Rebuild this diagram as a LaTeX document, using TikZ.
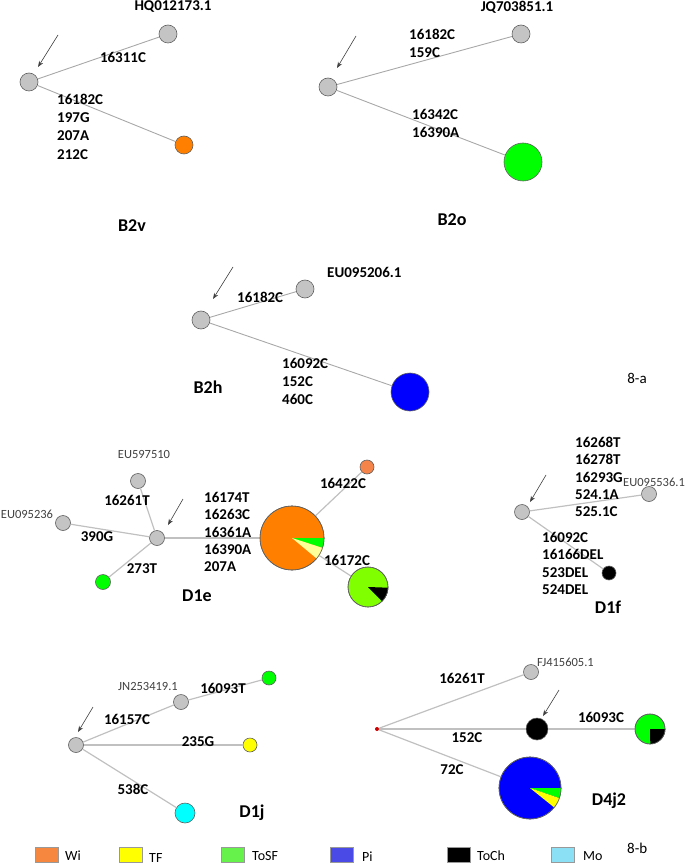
\documentclass[tikz,border=0pt]{standalone}
\usepackage{fontspec}
\setmainfont{Carlito}
\usetikzlibrary{arrows.meta}
\definecolor{nodegrey}{HTML}{C4C4C4}
\definecolor{rimgrey}{HTML}{606060}
\definecolor{linkgrey}{HTML}{A8A8A8}
\definecolor{linklight}{HTML}{C0C0C0}
\definecolor{arrowgrey}{HTML}{404040}
\definecolor{accgrey}{HTML}{404040}
\definecolor{wiOr}{HTML}{FF8000}
\definecolor{wiOrL}{HTML}{F5844A}
\definecolor{tosfG}{HTML}{00FF00}
\definecolor{limeG}{HTML}{80FF00}
\definecolor{piB}{HTML}{0000FF}
\definecolor{moC}{HTML}{00FFFF}
\definecolor{tfY}{HTML}{FFFF00}
\definecolor{tfYL}{HTML}{FFFF99}
\definecolor{legWi}{HTML}{F5873F}
\definecolor{legTF}{HTML}{FFFF00}
\definecolor{legToSF}{HTML}{66F24A}
\definecolor{legPi}{HTML}{4A4AE6}
\definecolor{legToCh}{HTML}{000000}
\definecolor{legMo}{HTML}{8CE0F5}
\definecolor{legRim}{HTML}{999999}
\tikzset{
  hap/.style={circle, draw=rimgrey, line width=0.6pt, inner sep=0pt},
  greyhap/.style={hap, fill=nodegrey, minimum size=#1},
  lbl/.style={font=\fontsize{15}{18.2}\selectfont\bfseries, inner sep=0pt, align=left},
  lblt/.style={font=\fontsize{15}{17.3}\selectfont\bfseries, inner sep=0pt, align=left},
  acc/.style={font=\fontsize{12.5}{15}\selectfont, text=accgrey, inner sep=0pt},
  grp/.style={font=\fontsize{18}{20}\selectfont\bfseries, inner sep=0pt},
  fig/.style={font=\fontsize{15}{18}\selectfont, inner sep=0pt},
  legtxt/.style={font=\fontsize{14}{16}\selectfont, inner sep=0pt, anchor=west},
  legsq/.style={draw=legRim, line width=0.6pt, minimum width=23pt, minimum height=15pt, inner sep=0pt},
  link/.style={draw=linkgrey, line width=0.9pt},
  linkl/.style={draw=linklight, line width=1.2pt},
  pointer/.style={-{Stealth[length=6pt,width=4.5pt]}, draw=arrowgrey, line width=0.6pt}
}
\begin{document}
\begin{tikzpicture}[x=1pt,y=-1pt]
\useasboundingbox (0,0) rectangle (685,866);

% ---------------- B2v ----------------
\node[greyhap=18pt] (bvr) at (29,82) {};
\node[greyhap=18pt] (bvh) at (168,34) {};
\node[hap, fill=wiOr, minimum size=18pt] (bvo) at (184,145) {};
\draw[link] (bvr) -- (bvh);
\draw[link] (bvr) -- (bvo);
\node[lbl] (bvhl) at (173,7) {HQ012173.1};
\node[lbl] (bvm1) at (123,57) {16311C};
\node[lbl, anchor=north west] (bvm2) at (57,94) {16182C\\197G\\207A\\212C};
\node[grp] (bvt) at (132,226) {B2v};
\coordinate (bvas) at (58,35);
\coordinate (bvae) at (38,67);
\draw[pointer] (bvas) -- (bvae);

% ---------------- B2o ----------------
\node[greyhap=18pt] (bor) at (328,87) {};
\node[greyhap=18pt] (boj) at (521,34) {};
\node[hap, fill=tosfG, minimum size=38pt] (bog) at (523,162) {};
\draw[link] (bor) -- (boj);
\draw[link] (bor) -- (bog);
\node[lbl] (bojl) at (517,7) {JQ703851.1};
\node[lbl, anchor=north west] (bom1) at (409,29) {16182C\\159C};
\node[lbl, anchor=north west] (bom2) at (412,109) {16342C\\16390A};
\node[grp] (bot) at (452,220) {B2o};
\coordinate (boas) at (356,36);
\coordinate (boae) at (337,68);
\draw[pointer] (boas) -- (boae);

% ---------------- B2h ----------------
\node[greyhap=18pt] (bhr) at (201,320) {};
\node[greyhap=18pt] (bhe) at (305,289) {};
\node[hap, fill=piB, minimum size=38pt] (bhb) at (410,392) {};
\draw[link] (bhr) -- (bhe);
\draw[link] (bhr) -- (bhb);
\node[lbl, anchor=west] (bhel) at (327,272) {EU095206.1};
\node[lbl, anchor=west] (bhm1) at (237,297) {16182C};
\node[lbl, anchor=north west] (bhm2) at (282,358) {16092C\\152C\\460C};
\node[grp] (bht) at (208,387) {B2h};
\node[fig] (figa) at (637,378) {8-a};
\coordinate (bhas) at (233,267);
\coordinate (bhae) at (213,299);
\draw[pointer] (bhas) -- (bhae);

% ---------------- D1e ----------------
\node[greyhap=15pt] (der) at (157,538) {};
\node[greyhap=15pt] (de5) at (138,481) {};
\node[greyhap=15pt] (de0) at (63,523) {};
\node[hap, fill=tosfG, minimum size=15pt] (deg) at (103,582) {};
\node[hap, fill=wiOr, minimum size=64pt] (dep) at (292,538) {};
\node[hap, fill=wiOrL, minimum size=14pt] (deo) at (367,467) {};
\node[hap, fill=limeG, minimum size=40pt] (deq) at (368,587) {};
\draw[linkl] (der) -- (de5);
\draw[linkl] (der) -- (de0);
\draw[linkl] (der) -- (deg);
\draw[linkl] (der) -- (dep);
\draw[linkl] (dep) -- (deo);
\draw[linkl] (dep) -- (deq);
% pie slices
\fill[tosfG] (dep.center) -- (dep.0) arc[start angle=0, end angle=-18, radius=32pt] -- cycle;
\fill[tfYL] (dep.center) -- (dep.-18) arc[start angle=-18, end angle=-40, radius=32pt] -- cycle;
\draw[rimgrey, line width=0.6pt] (dep.center) circle[radius=32pt];
\fill[black] (deq.center) -- (deq.-2) arc[start angle=-2, end angle=-46, radius=20pt] -- cycle;
\draw[rimgrey, line width=0.6pt] (deq.center) circle[radius=20pt];
\node[acc] (de5l) at (144,454) {EU597510};
\node[acc] (de0l) at (27,514) {EU095236};
\node[lbl] (dem1) at (127,500) {16261T};
\node[lbl] (dem2) at (97,537) {390G};
\node[lbl] (dem3) at (142,569) {273T};
\node[lblt, anchor=north west] (dem4) at (204,492) {16174T\\16263C\\16361A\\16390A\\207A};
\node[lbl] (dem5) at (343,483) {16422C};
\node[lbl] (dem6) at (347,560) {16172C};
\node[grp] (det) at (197,596) {D1e};
\coordinate (deas) at (183,499);
\coordinate (deae) at (168,525);
\draw[pointer] (deas) -- (deae);

% ---------------- D1f ----------------
\node[greyhap=15pt] (dfr) at (522,512) {};
\node[greyhap=15pt] (dfe) at (649,494) {};
\node[hap, fill=black, minimum size=14pt] (dfb) at (609,573) {};
\draw[linkl] (dfr) -- (dfe);
\draw[linkl] (dfr) -- (dfb);
\node[lblt, anchor=north west] (dfm1) at (575,437) {16268T\\16278T\\16293G\\524.1A\\525.1C};
\node[acc, anchor=west] (dfel) at (623,482) {EU095536.1};
\node[lblt, anchor=north west] (dfm2) at (542,532) {16092C\\16166DEL\\523DEL\\524DEL};
\node[grp] (dft) at (608,607) {D1f};
\coordinate (dfas) at (546,475);
\coordinate (dfae) at (530,502);
\draw[pointer] (dfas) -- (dfae);

% ---------------- D1j ----------------
\node[greyhap=15pt] (djr) at (76,745) {};
\node[greyhap=15pt] (djn) at (181,702) {};
\node[hap, fill=tosfG, minimum size=14pt] (djg) at (269,678) {};
\node[hap, fill=tfY, minimum size=14pt] (djy) at (250,745) {};
\node[hap, fill=moC, minimum size=20pt] (djc) at (185,813) {};
\draw[linkl] (djr) -- (djn);
\draw[linkl] (djn) -- (djg);
\draw[linkl] (djr) -- (djy);
\draw[linkl] (djr) -- (djc);
\node[acc] (djnl) at (148,686) {JN253419.1};
\node[lbl] (djm1) at (223,688) {16093T};
\node[lbl] (djm2) at (127,719) {16157C};
\node[lbl] (djm3) at (198,742) {235G};
\node[lbl] (djm4) at (133,789) {538C};
\node[grp] (djt) at (252,813) {D1j};
\coordinate (djas) at (93,707);
\coordinate (djae) at (78,732);
\draw[pointer] (djas) -- (djae);

% ---------------- D4j2 ----------------
\node[circle, fill=red!80!black, minimum size=4pt, inner sep=0pt] (d4r) at (377,729) {};
\node[greyhap=15pt] (d4f) at (531,672) {};
\node[hap, fill=black, minimum size=22pt] (d4k) at (537,729) {};
\node[hap, fill=tosfG, minimum size=30pt] (d4g) at (650,729) {};
\node[hap, fill=piB, minimum size=62pt] (d4b) at (530,788) {};
\draw[linkl] (d4r) -- (d4f);
\draw[linkl] (d4r) -- (d4k);
\draw[linkl] (d4k) -- (d4g);
\draw[linkl] (d4r) -- (d4b);
\fill[black] (d4g.center) -- (d4g.0) arc[start angle=0, end angle=-90, radius=15pt] -- cycle;
\draw[rimgrey, line width=0.6pt] (d4g.center) circle[radius=15pt];
\fill[tosfG] (d4b.center) -- (d4b.0) arc[start angle=0, end angle=-19, radius=31pt] -- cycle;
\fill[tfY] (d4b.center) -- (d4b.-19) arc[start angle=-19, end angle=-39, radius=31pt] -- cycle;
\draw[rimgrey, line width=0.6pt] (d4b.center) circle[radius=31pt];
\node[acc, anchor=west] (d4fl) at (537,662) {FJ415605.1};
\node[lbl] (d4m1) at (462,678) {16261T};
\node[lbl] (d4m2) at (467,738) {152C};
\node[lbl] (d4m3) at (601,717) {16093C};
\node[lbl] (d4m4) at (452,770) {72C};
\node[grp] (d4t) at (609,801) {D4j2};
\coordinate (d4as) at (559,690);
\coordinate (d4ae) at (543,716);
\draw[pointer] (d4as) -- (d4ae);

% ---------------- legend ----------------
\node[legsq, fill=legWi] (kwi) at (46.5,854.5) {};
\node[legtxt] (kwil) at (65,856) {Wi};
\node[legsq, fill=legTF] (ktf) at (130.5,854.5) {};
\node[legtxt] (ktfl) at (149,857.5) {TF};
\node[legsq, fill=legToSF] (ksf) at (232.5,854.5) {};
\node[legtxt] (ksfl) at (252,856) {ToSF};
\node[legsq, fill=legPi] (kpi) at (341.5,854.5) {};
\node[legtxt] (kpil) at (362,857) {Pi};
\node[legsq, fill=legToCh] (kch) at (458.5,854.5) {};
\node[legtxt] (kchl) at (477,856) {ToCh};
\node[legsq, fill=legMo] (kmo) at (562.5,854.5) {};
\node[legtxt] (kmol) at (583,856) {Mo};
\node[fig, anchor=west] (figb) at (627,848) {8-b};
\end{tikzpicture}
\end{document}
